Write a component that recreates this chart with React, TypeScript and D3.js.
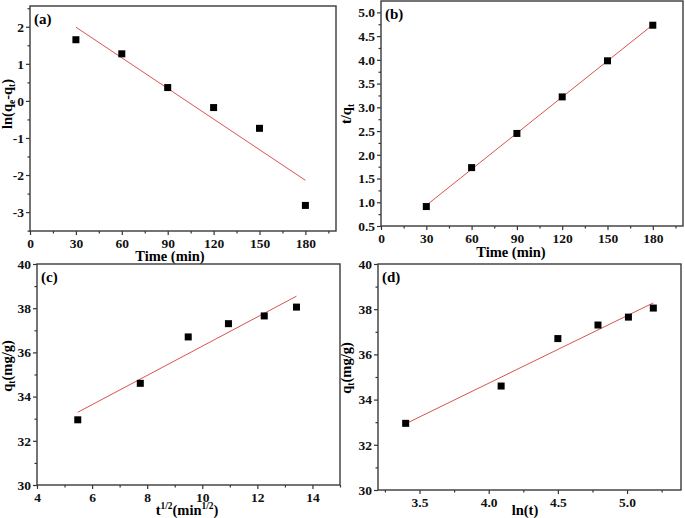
import React, { useRef, useEffect } from 'react';
import * as d3 from 'd3';

// measured data (same six contact times for every kinetic model)
const time = [30, 60, 90, 120, 150, 180];
const lnQeQt = [1.65, 1.27, 0.36, -0.18, -0.74, -2.82];
const tOverQt = [0.91, 1.73, 2.45, 3.22, 3.98, 4.73];
const qt = [32.95, 34.6, 36.7, 37.3, 37.65, 38.05];
const sqrtT = [5.48, 7.75, 9.49, 10.95, 12.25, 13.42];
const lnT = [3.4, 4.09, 4.5, 4.79, 5.01, 5.19];

// tick labels
const timeTicks = [0, 30, 60, 90, 120, 150, 180];
const lnTicks = [-3, -2, -1, 0, 1, 2];
const tqTicks = [0.5, 1.0, 1.5, 2.0, 2.5, 3.0, 3.5, 4.0, 4.5, 5.0];
const qtTicks = [30, 32, 34, 36, 38, 40];
const sqrtTicks = [4, 6, 8, 10, 12, 14];
const lnTTicks = [3.5, 4.0, 4.5, 5.0];

type Part = { t: string; s?: 'sub' | 'sup' };

const FONT = "'Liberation Serif', 'Times New Roman', Times, serif";

const panels = [
  {
    tag: '(a)', x: time, y: lnQeQt,
    box: [30, 6, 336, 231], xd: [0, 200], yd: [-3.51, 2.56],
    xt: timeTicks, yt: lnTicks, xFmt: d3.format('d'), yFmt: (d: number) => String(d),
    xMinor: 15, yMinor: 0.5,
    xLabel: [{ t: 'Time (min)' }] as Part[], xLabelPos: [170, 261],
    yLabel: [{ t: 'ln(q' }, { t: 'e', s: 'sub' }, { t: '-q' }, { t: 't', s: 'sub' }, { t: ')' }] as Part[], yLabelPos: [12, 104],
  },
  {
    tag: '(b)', x: time, y: tOverQt,
    box: [381, 1, 683, 226], xd: [0, 200], yd: [0.5, 5.24],
    xt: timeTicks, yt: tqTicks, xFmt: d3.format('d'), yFmt: d3.format('.1f'),
    xMinor: 15, yMinor: 0.25,
    xLabel: [{ t: 'Time (min)' }] as Part[], xLabelPos: [511, 257],
    yLabel: [{ t: 't/q' }, { t: 't', s: 'sub' }] as Part[], yLabelPos: [351, 114],
  },
  {
    tag: '(c)', x: sqrtT, y: qt,
    box: [37, 264, 340, 485], xd: [4, 15], yd: [30, 40],
    xt: sqrtTicks, yt: qtTicks, xFmt: d3.format('d'), yFmt: d3.format('d'),
    xMinor: 1, yMinor: 1,
    xLabel: [{ t: 't' }, { t: '1/2', s: 'sup' }, { t: '(min' }, { t: '1/2', s: 'sup' }, { t: ')' }] as Part[], xLabelPos: [187, 515],
    yLabel: [{ t: 'q' }, { t: 't', s: 'sub' }, { t: '(mg/g)' }] as Part[], yLabelPos: [12, 366],
  },
  {
    tag: '(d)', x: lnT, y: qt,
    box: [378, 264, 681, 490], xd: [3.2, 5.39], yd: [30, 40],
    xt: lnTTicks, yt: qtTicks, xFmt: d3.format('.1f'), yFmt: d3.format('d'),
    xMinor: 0.25, yMinor: 1,
    xLabel: [{ t: 'ln(t)' }] as Part[], xLabelPos: [525, 515],
    yLabel: [{ t: 'q' }, { t: 't', s: 'sub' }, { t: '(mg/g)' }] as Part[], yLabelPos: [351, 368],
  },
];

function fit(xs: number[], ys: number[]) {
  const mx = d3.mean(xs)!;
  const my = d3.mean(ys)!;
  const sxy = d3.sum(xs, (v, i) => (v - mx) * (ys[i] - my));
  const sxx = d3.sum(xs, (v) => (v - mx) ** 2);
  const k = sxy / sxx;
  return (v: number) => my + k * (v - mx);
}

// text with sub/superscripts; dy is relative so undo the previous shift each time
function richText(sel: any, parts: Part[], size: number) {
  let shift = 0;
  parts.forEach((p) => {
    const want = p.s === 'sub' ? size * 0.22 : p.s === 'sup' ? -size * 0.38 : 0;
    sel.append('tspan')
      .attr('font-size', p.s ? size * 0.65 : size)
      .attr('dy', want - shift)
      .text(p.t);
    shift = want;
  });
}

const App = () => {
  const svgRef = useRef<SVGSVGElement>(null);

  useEffect(() => {
    const svg = d3.select(svgRef.current);
    svg.selectAll('*').remove();

    panels.forEach((p) => {
      const [x0, y0, x1, y1] = p.box;
      const xs = d3.scaleLinear().domain(p.xd).range([x0, x1]);
      const ys = d3.scaleLinear().domain(p.yd).range([y1, y0]);
      const g = svg.append('g');

      const xMin = d3.range(Math.ceil(p.xd[0] / p.xMinor) * p.xMinor, p.xd[1] + 1e-9, p.xMinor)
        .filter((v) => !p.xt.some((t) => Math.abs(t - v) < 1e-9));
      const yMin = d3.range(Math.ceil(p.yd[0] / p.yMinor) * p.yMinor, p.yd[1] + 1e-9, p.yMinor)
        .filter((v) => !p.yt.some((t) => Math.abs(t - v) < 1e-9));

      const gx = g.append('g').attr('transform', `translate(0,${y1})`)
        .call(d3.axisBottom(xs).tickValues(p.xt).tickFormat(p.xFmt as any).tickSize(4).tickPadding(3).tickSizeOuter(0));
      g.append('g').attr('transform', `translate(0,${y1})`)
        .call(d3.axisBottom(xs).tickValues(xMin).tickFormat(() => '').tickSize(2.5).tickSizeOuter(0));
      const gy = g.append('g').attr('transform', `translate(${x0},0)`)
        .call(d3.axisLeft(ys).tickValues(p.yt).tickFormat(p.yFmt as any).tickSize(4).tickPadding(2).tickSizeOuter(0));
      g.append('g').attr('transform', `translate(${x0},0)`)
        .call(d3.axisLeft(ys).tickValues(yMin).tickFormat(() => '').tickSize(2.5).tickSizeOuter(0));

      g.selectAll('.domain').remove();
      g.selectAll('.tick line').attr('stroke', '#333').attr('stroke-width', 1.2);
      [gx, gy].forEach((a) => a.selectAll('text')
        .style('font-family', FONT).style('font-weight', 'bold').style('font-size', '13.5px').attr('fill', '#111'));

      g.append('rect')
        .attr('x', x0).attr('y', y0).attr('width', x1 - x0).attr('height', y1 - y0)
        .attr('fill', 'none').attr('stroke', '#3a3a3a').attr('stroke-width', 1.4);

      // linear fit
      const f = fit(p.x, p.y);
      const ends = d3.extent(p.x) as [number, number];
      g.append('path')
        .attr('d', d3.line<number>().x((v) => xs(v)).y((v) => ys(f(v)))(ends))
        .attr('fill', 'none').attr('stroke', '#d9534f').attr('stroke-width', 1);

      g.selectAll('.pt').data(p.x).join('rect')
        .attr('x', (v) => xs(v) - 3.5)
        .attr('y', (v, i) => ys(p.y[i]) - 3.5)
        .attr('width', 7).attr('height', 7).attr('fill', '#000');

      g.append('text').attr('x', x0 + 4).attr('y', y0 + 18)
        .style('font-family', FONT).style('font-weight', 'bold').style('font-size', '15px').text(p.tag);

      const xl = g.append('text').attr('x', p.xLabelPos[0]).attr('y', p.xLabelPos[1])
        .attr('text-anchor', 'middle').style('font-family', FONT).style('font-weight', 'bold');
      richText(xl, p.xLabel, 14.5);

      const yl = g.append('text')
        .attr('transform', `translate(${p.yLabelPos[0]},${p.yLabelPos[1]}) rotate(-90)`)
        .attr('text-anchor', 'middle').style('font-family', FONT).style('font-weight', 'bold');
      richText(yl, p.yLabel, 14.5);
    });
  }, []);

  return (
    <svg ref={svgRef} width={685} height={518}
      style={{ position: 'absolute', left: 0, top: 0, background: '#fff' }} />
  );
};

export default App;
